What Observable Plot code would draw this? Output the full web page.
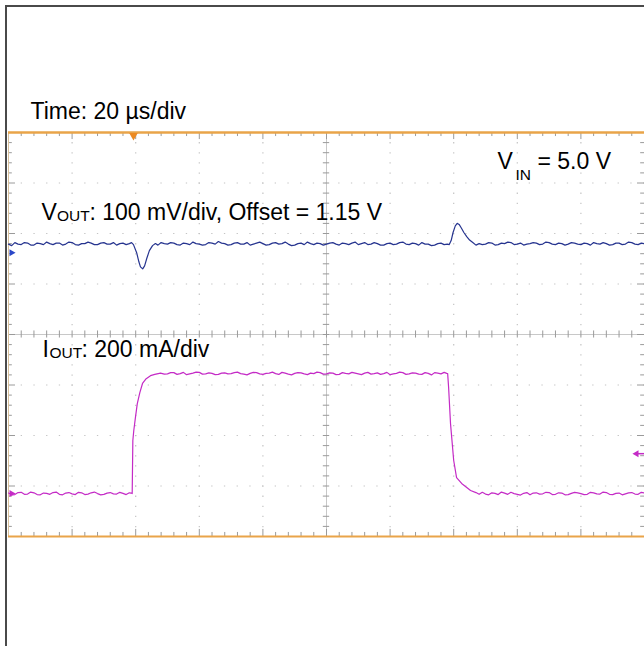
<!DOCTYPE html>
<html><head><meta charset="utf-8">
<script src="https://cdn.jsdelivr.net/npm/d3@7"></script>
<script src="https://cdn.jsdelivr.net/npm/@observablehq/plot@0.6"></script>
<style>
body{margin:0;background:#fff;}
#wrap{position:relative;width:644px;height:646px;overflow:hidden;background:#fff;}
#border{position:absolute;left:5px;top:5px;width:700px;height:700px;border-left:2px solid #4a4a4a;border-top:2px solid #4a4a4a;pointer-events:none;}
</style></head><body>
<div id="wrap"><div id="chart"></div><div id="border"></div></div>
<script>
// ---- Data (time in µs, VOUT in mV, IOUT in mA) ----
const timeDomain = [-40, 160];           // 10 div x 20 µs/div
const voutPerDiv = 100;                  // mV/div
const voutOffset = 1150;                 // mV (Offset = 1.15 V)
const voutRefDiv = 1.62;                 // screen position of VOUT reference marker (div)
const ioutPerDiv = 200;                  // mA/div
const ioutRefDiv = -3.15;                // screen position of IOUT ground marker (div)
const triggerTime = [-0.7];
const triggerLevel = [158];              // mA, marker on right edge

const vout = [
[-40,1167],[-39,1164],[-38,1170],[-37,1167],[-36,1166],[-35,1170],[-34,1169],[-33,1165],[-32,1165],[-31,1169],[-30,1168],[-29,1166],[-28,1171],[-27,1168],[-26,1166],[-25,1169],[-24,1169],[-23,1165],[-22,1167],[-21,1171],
[-20,1170],[-19,1166],[-18,1165],[-17,1168],[-16,1168],[-15,1171],[-14,1169],[-13,1166],[-12,1166],[-11,1169],[-10,1170],[-9,1167],[-8,1167],[-7,1170],[-6,1165],[-5,1168],[-4,1169],[-3,1166],[-2,1168],[-1.3,1170],
[-0.7,1166],[0.3,1150],[1.0,1132],[1.5,1122],[2.2,1118],[2.8,1124],[3.5,1139],[4.3,1154],[5.3,1164],[6.2,1168],
[7,1165],[8,1170],[9,1168],[10,1167],[11,1170],[12,1169],[13,1166],[14,1165],[15,1169],[16,1168],[17,1166],[18,1171],[19,1168],[20,1167],[21,1165],[22,1166],[23,1170],[24,1169],
[25,1167],[26,1172],[27,1169],[28,1168],[29,1165],[30,1166],[31,1169],[32,1170],[33,1167],[34,1167],[35,1170],[36,1165],[37,1167],[38,1169],[39,1171],[40,1168],[41,1165],[42,1166],[43,1169],[44,1170],
[45,1167],[46,1168],[47,1171],[48,1167],[49,1164],[50,1165],[51,1168],[52,1169],[53,1166],[54,1171],[55,1168],[56,1166],[57,1169],[58,1168],[59,1165],[60,1167],[61,1169],[62,1170],[63,1167],[64,1165],
[65,1169],[66,1168],[67,1166],[68,1169],[69,1171],[70,1166],[71,1168],[72,1170],[73,1166],[74,1167],[75,1170],[76,1168],[77,1165],[78,1165],[79,1168],[80,1169],[81,1166],[82,1167],[83,1170],[84,1171],
[85,1167],[86,1166],[87,1169],[88,1168],[89,1165],[90,1170],[91,1167],[92,1167],[93,1164],[94,1165],[95,1168],[96,1169],[97,1166],[98,1167],
[98.6,1166],[99.2,1174],[99.8,1190],[100.5,1203],[101.1,1208],[101.7,1206],[102.4,1199],[103.2,1190],[104.1,1182],[105.0,1175],[106.0,1170],[107.0,1165],[108.0,1168],
[109,1166],[110,1167],[111,1170],[112,1169],[113,1165],[114,1166],[115,1169],[116,1168],[117,1171],[118,1170],[119,1166],[120,1167],[121,1169],[122,1165],[123,1167],[124,1168],[125,1170],[126,1169],[127,1166],[128,1167],
[129,1171],[130,1170],[131,1167],[132,1166],[133,1169],[134,1168],[135,1165],[136,1167],[137,1170],[138,1169],[139,1167],[140,1166],[141,1169],[142,1168],[143,1165],[144,1170],[145,1168],[146,1167],[147,1170],[148,1168],
[149,1165],[150,1166],[151,1169],[152,1169],[153,1166],[154,1167],[155,1171],[156,1170],[157,1167],[158,1166],[159,1169],[160,1168]
];

const iout = [
[-40,2],[-39,-5],[-38,-4],[-37,4],[-36,5],[-35,-3],[-34,-2],[-33,6],[-32,3],[-31,-4],[-30,-5],[-29,2],[-28,1],[-27,-3],[-26,4],[-25,6],[-24,-3],[-23,-5],[-22,2],[-21,4],
[-20,-1],[-19,-4],[-18,5],[-17,3],[-16,-4],[-15,-2],[-14,3],[-13,6],[-12,0],[-11,-5],[-10,-3],[-9,2],[-8,4],[-7,-1],[-6,-2],[-5,5],[-4,1],[-3,-4],[-2,3],[-1.4,2],
[-1.1,0],[-0.9,210],[-0.6,250],[-0.1,300],[0.5,356],[1.3,400],[2.14,436],[3.3,455],[4.65,467],[6,472],[7.8,477],
[9,473],[10,474],[11,479],[12,479],[13,472],[14,475],[15,480],[16,471],[17,474],[18,477],[19,481],[20,480],[21,473],[22,474],[23,478],[24,476],[25,471],[26,472],[27,477],[28,478],
[29,474],[30,475],[31,479],[32,481],[33,475],[34,473],[35,470],[36,476],[37,480],[38,479],[39,474],[40,472],[41,476],[42,477],[43,481],[44,475],[45,472],[46,480],[47,477],[48,473],
[49,470],[50,476],[51,479],[52,478],[53,474],[54,471],[55,477],[56,475],[57,481],[58,479],[59,473],[60,474],[61,478],[62,477],[63,471],[64,472],[65,479],[66,476],[67,474],[68,480],
[69,477],[70,474],[71,471],[72,477],[73,480],[74,473],[75,475],[76,478],[77,472],[78,475],[79,480],[80,471],[81,474],[82,476],[83,481],[84,479],[85,472],[86,474],[87,478],[88,477],
[89,473],[90,472],[91,479],[92,476],[93,470],[94,479],[95,477],[96,474],[97,480],[97.8,476],
[98.1,475],[98.4,420],[99.0,277],[100.0,131],[100.9,63],[102.5,40],[105.3,12],[107,4],
[108,-3],[109,5],[110,-2],[111,-5],[112,3],[113,1],[114,-4],[115,6],[116,2],[117,-3],[118,5],[119,0],[120,-3],[121,-6],[122,1],[123,4],[124,-5],[125,2],[126,3],[127,-2],[128,-1],
[129,5],[130,4],[131,-4],[132,-3],[133,3],[134,2],[135,-5],[136,-4],[137,1],[138,5],[139,3],[140,0],[141,-4],[142,-3],[143,5],[144,3],[145,-1],[146,-2],[147,6],[148,4],
[149,-3],[150,-4],[151,1],[152,2],[153,-5],[154,-1],[155,3],[156,4],[157,-2],[158,-3],[159,5],[160,2]
];

const labels = {
  time: "Time: 20 µs/div",
  vout: ["V", "OUT", ": 100 mV/div, Offset = 1.15 V"],
  iout: ["I", "OUT", ": 200 mA/div"],
  vin: ["V", "IN", "= 5.0 V"]
};

// ---- Screen structure (10 x 8 divisions, 5 minor per div) ----
const majorX = d3.range(-40, 161, 20);
const minorX = d3.range(-40, 161, 4);
const majorY = d3.range(-4, 4.01, 1);
const minorY = d3.range(-4, 4.01, 0.2);
const centerT = 60;

const vDiv = v => voutRefDiv + (v - voutOffset) / voutPerDiv;
const iDiv = i => ioutRefDiv + i / ioutPerDiv;

const FONT = "'Liberation Sans', Arial, Helvetica, sans-serif";
const orange = "#e9a449";
const gridGray = "#c4c4c4";
const tickGray = "#9a9a9a";

function txt(str, dx, dy, size, extra={}) {
  return Plot.text([str], {text: d => d, frameAnchor: "top-left", textAnchor: "start", lineAnchor: "bottom",
    dx: dx - 8, dy: dy - 132, fontSize: size, fill: "#000", ...extra});
}

const plot = Plot.plot({
  width: 644, height: 646,
  marginLeft: 8, marginRight: 0, marginTop: 132, marginBottom: 110,
  x: {domain: timeDomain, axis: null},
  y: {domain: [-4, 4], axis: null},
  style: {fontFamily: FONT, background: "transparent", overflow: "visible"},
  marks: [
    // dotted graticule
    Plot.ruleX(majorX.filter(t => t > -40 && t < 160 && t !== centerT), {stroke: gridGray, strokeWidth: 1.2, strokeDasharray: "1.3,8.8"}),
    Plot.ruleY(majorY.filter(v => v > -4 && v < 4 && v !== 0), {stroke: gridGray, strokeWidth: 1.2, strokeDasharray: "1.3,11.4"}),
    // center cross
    Plot.ruleX([centerT], {stroke: "#c8c8c8", strokeWidth: 1}),
    Plot.ruleY([0], {stroke: "#c8c8c8", strokeWidth: 1}),
    Plot.ruleX(minorX, {y1: -0.07, y2: 0.07, stroke: tickGray, strokeWidth: 1}),
    Plot.ruleY(minorY, {x1: centerT - 1.0, x2: centerT + 1.0, stroke: tickGray, strokeWidth: 1}),
    // edge ticks
    Plot.ruleX(minorX, {y1: 4, y2: d => (d + 40) % 20 === 0 ? 3.86 : 3.92, stroke: tickGray, strokeWidth: 1}),
    Plot.ruleX(minorX, {y1: -4, y2: d => (d + 40) % 20 === 0 ? -3.86 : -3.92, stroke: tickGray, strokeWidth: 1}),
    Plot.ruleY(minorY, {x1: -40, x2: d => Math.abs(d - Math.round(d)) < 1e-6 ? -37.8 : -38.8, stroke: tickGray, strokeWidth: 1}),
    Plot.ruleY(minorY, {x1: 160, x2: d => Math.abs(d - Math.round(d)) < 1e-6 ? 157.8 : 158.8, stroke: tickGray, strokeWidth: 1}),
    // screen edges
    Plot.ruleX([-40], {stroke: "#d8c09a", strokeWidth: 1}),
    Plot.ruleY([4], {stroke: orange, strokeWidth: 2.6}),
    Plot.ruleY([-4], {stroke: orange, strokeWidth: 2.2}),
    // traces
    Plot.line(vout, {x: d => d[0], y: d => vDiv(d[1]), stroke: "#26348f", strokeWidth: 1.2}),
    Plot.line(iout, {x: d => d[0], y: d => iDiv(d[1]), stroke: "#c42bc6", strokeWidth: 1.2}),
    // markers
    Plot.dot(triggerTime, {x: d => d, y: 4, symbol: "triangle", rotate: 180, r: 3.2, fill: "#ec8a22", stroke: "none", dy: 3}),
    Plot.dot([voutOffset], {x: timeDomain[0], y: d => vDiv(d), symbol: "triangle", rotate: 90, r: 2.6, fill: "#2a47c8", stroke: "none", dx: 3}),
    Plot.dot([0], {x: timeDomain[0], y: d => iDiv(d), symbol: "triangle", rotate: 90, r: 2.6, fill: "#c42bc6", stroke: "none", dx: 3}),
    Plot.dot(triggerLevel, {x: timeDomain[1], y: d => iDiv(d), symbol: "triangle", rotate: -90, r: 2.6, fill: "#c42bc6", stroke: "none", dx: -8}),
    Plot.ruleY(triggerLevel, {y: d => iDiv(d), x1: 157.5, x2: 160, stroke: "#c42bc6", strokeWidth: 1.5}),
    // labels
    txt(labels.time, 30, 118, 23),
    txt(labels.vout[0], 41, 219, 23),
    txt(labels.vout[1], 56.5, 220, 15.5),
    txt(labels.vout[2], 89, 219, 23),
    txt(labels.iout[0], 42, 356, 23),
    txt(labels.iout[1], 49, 357, 15.5),
    txt(labels.iout[2], 81, 356, 23),
    txt(labels.vin[0], 497, 168, 23),
    txt(labels.vin[1], 515, 179, 15.5),
    txt(labels.vin[2], 537, 168, 23)
  ]
});
document.getElementById("chart").appendChild(plot);
</script>
</body></html>
